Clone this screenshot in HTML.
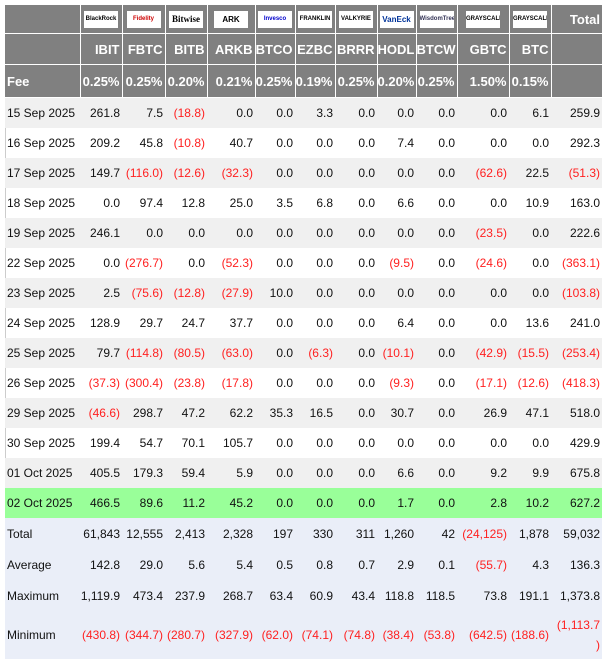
<!DOCTYPE html>
<html><head><style>
body{margin:0;background:#fff;font-family:"Liberation Sans",sans-serif;font-size:12px;color:#111}
table{position:absolute;left:5px;top:5px;border-collapse:collapse;table-layout:fixed;width:597px}
td{padding:0 2px 0 0;text-align:right;white-space:nowrap;overflow:hidden}
td:first-child{text-align:left;padding-left:2px}
tr.h td{background:#808080;color:#fff;font-weight:bold;font-size:13px;border:1px solid #fff;border-top:none}
tr.h td:first-child{border-left:none}
tr.h td:last-child{border-right:none}
tr.l td{height:28px;text-align:center;padding:0}
tr.l td:last-child{text-align:right;padding-right:2px}
tr.t td{height:30px}
tr.f td{height:32px}
tr.d td{height:30px}
tr.d:nth-child(even) td{background:#f0f0f0}
tr.g td{background:#99ff99!important}
tr.s td{background:#eaeef8;height:31px}
tr.m td{height:48px}
.r{color:#ff2020}
.lg{display:inline-block;background:#fff;width:34px;height:17px;line-height:17px;font-size:6px;color:#000;vertical-align:middle;overflow:hidden}
</style></head><body>
<div style="position:absolute;left:5px;top:5px;width:1px;height:652px;background:#ccc"></div>
<div style="position:absolute;left:5px;top:657px;width:597px;height:1px;background:#ccc"></div>
<table>
<colgroup><col style="width:75px"><col style="width:42px"><col style="width:43px"><col style="width:42px"><col style="width:48px"><col style="width:40px"><col style="width:40px"><col style="width:42px"><col style="width:39px"><col style="width:41px"><col style="width:52px"><col style="width:42px"><col style="width:51px"></colgroup>
<tr class="h l"><td></td><td><span class="lg"><b>BlackRock</b></span></td><td><span class="lg" style="color:#c00">Fidelity</span></td><td><span class="lg" style="font-size:9px;font-family:'Liberation Serif'">Bitwise</span></td><td><span class="lg" style="font-size:8px">ARK</span></td><td><span class="lg" style="color:#00c">Invesco</span></td><td><span class="lg">FRANKLIN</span></td><td><span class="lg"><b>VALKYRIE</b></span></td><td><span class="lg" style="color:#039;font-size:8px"><b>VanEck</b></span></td><td><span class="lg" style="color:#335">WisdomTree</span></td><td><span class="lg">GRAYSCALE</span></td><td><span class="lg">GRAYSCALE</span></td><td>Total</td></tr>
<tr class="h t"><td></td><td>IBIT</td><td>FBTC</td><td>BITB</td><td>ARKB</td><td>BTCO</td><td>EZBC</td><td>BRRR</td><td>HODL</td><td>BTCW</td><td>GBTC</td><td>BTC</td><td></td></tr>
<tr class="h f"><td>Fee</td><td>0.25%</td><td>0.25%</td><td>0.20%</td><td>0.21%</td><td>0.25%</td><td>0.19%</td><td>0.25%</td><td>0.20%</td><td>0.25%</td><td>1.50%</td><td>0.15%</td><td></td></tr>
<tr class="d"><td>15 Sep 2025</td><td>261.8</td><td>7.5</td><td class="r">(18.8)</td><td>0.0</td><td>0.0</td><td>3.3</td><td>0.0</td><td>0.0</td><td>0.0</td><td>0.0</td><td>6.1</td><td>259.9</td></tr>
<tr class="d"><td>16 Sep 2025</td><td>209.2</td><td>45.8</td><td class="r">(10.8)</td><td>40.7</td><td>0.0</td><td>0.0</td><td>0.0</td><td>7.4</td><td>0.0</td><td>0.0</td><td>0.0</td><td>292.3</td></tr>
<tr class="d"><td>17 Sep 2025</td><td>149.7</td><td class="r">(116.0)</td><td class="r">(12.6)</td><td class="r">(32.3)</td><td>0.0</td><td>0.0</td><td>0.0</td><td>0.0</td><td>0.0</td><td class="r">(62.6)</td><td>22.5</td><td class="r">(51.3)</td></tr>
<tr class="d"><td>18 Sep 2025</td><td>0.0</td><td>97.4</td><td>12.8</td><td>25.0</td><td>3.5</td><td>6.8</td><td>0.0</td><td>6.6</td><td>0.0</td><td>0.0</td><td>10.9</td><td>163.0</td></tr>
<tr class="d"><td>19 Sep 2025</td><td>246.1</td><td>0.0</td><td>0.0</td><td>0.0</td><td>0.0</td><td>0.0</td><td>0.0</td><td>0.0</td><td>0.0</td><td class="r">(23.5)</td><td>0.0</td><td>222.6</td></tr>
<tr class="d"><td>22 Sep 2025</td><td>0.0</td><td class="r">(276.7)</td><td>0.0</td><td class="r">(52.3)</td><td>0.0</td><td>0.0</td><td>0.0</td><td class="r">(9.5)</td><td>0.0</td><td class="r">(24.6)</td><td>0.0</td><td class="r">(363.1)</td></tr>
<tr class="d"><td>23 Sep 2025</td><td>2.5</td><td class="r">(75.6)</td><td class="r">(12.8)</td><td class="r">(27.9)</td><td>10.0</td><td>0.0</td><td>0.0</td><td>0.0</td><td>0.0</td><td>0.0</td><td>0.0</td><td class="r">(103.8)</td></tr>
<tr class="d"><td>24 Sep 2025</td><td>128.9</td><td>29.7</td><td>24.7</td><td>37.7</td><td>0.0</td><td>0.0</td><td>0.0</td><td>6.4</td><td>0.0</td><td>0.0</td><td>13.6</td><td>241.0</td></tr>
<tr class="d"><td>25 Sep 2025</td><td>79.7</td><td class="r">(114.8)</td><td class="r">(80.5)</td><td class="r">(63.0)</td><td>0.0</td><td class="r">(6.3)</td><td>0.0</td><td class="r">(10.1)</td><td>0.0</td><td class="r">(42.9)</td><td class="r">(15.5)</td><td class="r">(253.4)</td></tr>
<tr class="d"><td>26 Sep 2025</td><td class="r">(37.3)</td><td class="r">(300.4)</td><td class="r">(23.8)</td><td class="r">(17.8)</td><td>0.0</td><td>0.0</td><td>0.0</td><td class="r">(9.3)</td><td>0.0</td><td class="r">(17.1)</td><td class="r">(12.6)</td><td class="r">(418.3)</td></tr>
<tr class="d"><td>29 Sep 2025</td><td class="r">(46.6)</td><td>298.7</td><td>47.2</td><td>62.2</td><td>35.3</td><td>16.5</td><td>0.0</td><td>30.7</td><td>0.0</td><td>26.9</td><td>47.1</td><td>518.0</td></tr>
<tr class="d"><td>30 Sep 2025</td><td>199.4</td><td>54.7</td><td>70.1</td><td>105.7</td><td>0.0</td><td>0.0</td><td>0.0</td><td>0.0</td><td>0.0</td><td>0.0</td><td>0.0</td><td>429.9</td></tr>
<tr class="d"><td>01 Oct 2025</td><td>405.5</td><td>179.3</td><td>59.4</td><td>5.9</td><td>0.0</td><td>0.0</td><td>0.0</td><td>6.6</td><td>0.0</td><td>9.2</td><td>9.9</td><td>675.8</td></tr>
<tr class="d g"><td>02 Oct 2025</td><td>466.5</td><td>89.6</td><td>11.2</td><td>45.2</td><td>0.0</td><td>0.0</td><td>0.0</td><td>1.7</td><td>0.0</td><td>2.8</td><td>10.2</td><td>627.2</td></tr>
<tr class="s"><td>Total</td><td>61,843</td><td>12,555</td><td>2,413</td><td>2,328</td><td>197</td><td>330</td><td>311</td><td>1,260</td><td>42</td><td class="r">(24,125)</td><td>1,878</td><td>59,032</td></tr>
<tr class="s"><td>Average</td><td>142.8</td><td>29.0</td><td>5.6</td><td>5.4</td><td>0.5</td><td>0.8</td><td>0.7</td><td>2.9</td><td>0.1</td><td class="r">(55.7)</td><td>4.3</td><td>136.3</td></tr>
<tr class="s"><td>Maximum</td><td>1,119.9</td><td>473.4</td><td>237.9</td><td>268.7</td><td>63.4</td><td>60.9</td><td>43.4</td><td>118.8</td><td>118.5</td><td>73.8</td><td>191.1</td><td>1,373.8</td></tr>
<tr class="s m"><td>Minimum</td><td class="r">(430.8)</td><td class="r">(344.7)</td><td class="r">(280.7)</td><td class="r">(327.9)</td><td class="r">(62.0)</td><td class="r">(74.1)</td><td class="r">(74.8)</td><td class="r">(38.4)</td><td class="r">(53.8)</td><td class="r">(642.5)</td><td class="r">(188.6)</td><td class="r" style="line-height:20px">(1,113.7<br>)</td></tr>
</table>
</body></html>
